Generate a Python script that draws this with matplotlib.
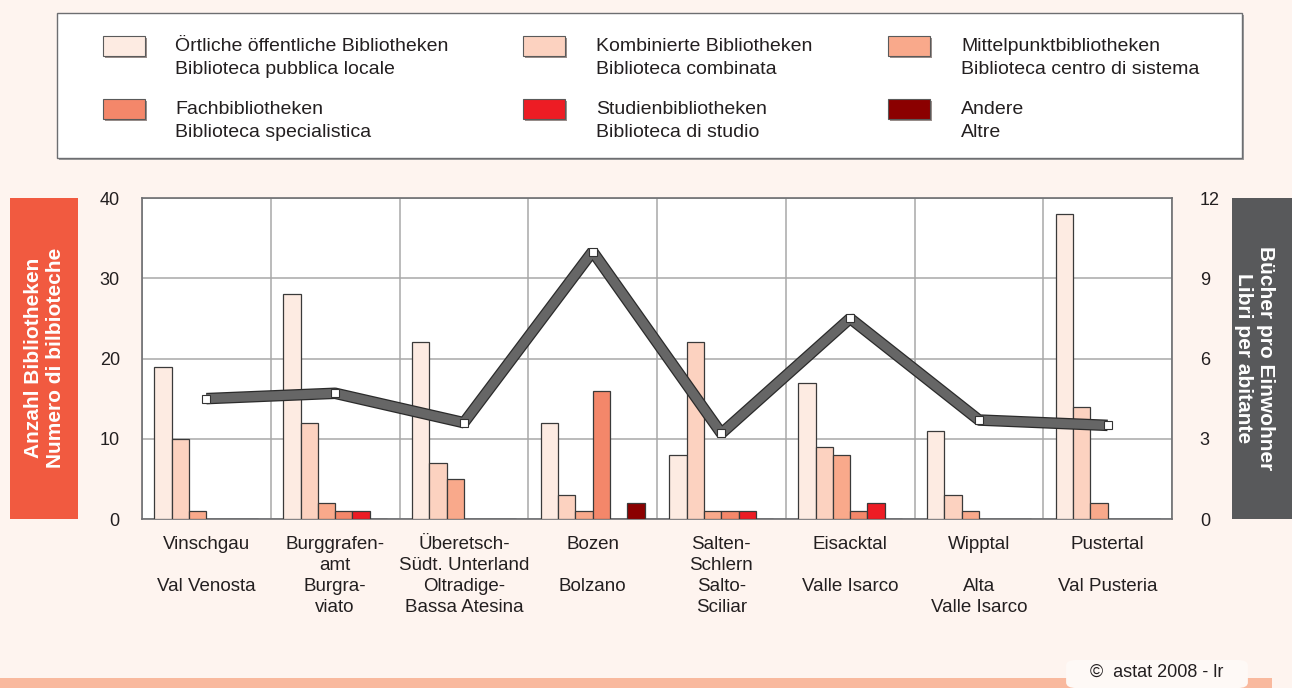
import numpy as np
import matplotlib
matplotlib.use("Agg")
import matplotlib.pyplot as plt
import matplotlib.patheffects as pe
from matplotlib.patches import Rectangle, FancyBboxPatch

plt.rcParams['font.family'] = ['Liberation Sans', 'DejaVu Sans']

# --- data ---
regions_de = ["Vinschgau", "Burggrafen-\namt", "Überetsch-\nSüdt. Unterland", "Bozen",
              "Salten-\nSchlern", "Eisacktal", "Wipptal", "Pustertal"]
regions_it = ["Val Venosta", "Burgra-\nviato", "Oltradige-\nBassa Atesina", "Bolzano",
              "Salto-\nSciliar", "Valle Isarco", "Alta\nValle Isarco", "Val Pusteria"]
series_names = [
    "Örtliche öffentliche Bibliotheken\nBiblioteca pubblica locale",
    "Kombinierte Bibliotheken\nBiblioteca combinata",
    "Mittelpunktbibliotheken\nBiblioteca centro di sistema",
    "Fachbibliotheken\nBiblioteca specialistica",
    "Studienbibliotheken\nBiblioteca di studio",
    "Andere\nAltre",
]
oertliche = [19, 28, 22, 12, 8, 17, 11, 38]
kombinierte = [10, 12, 7, 3, 22, 9, 3, 14]
mittelpunkt = [1, 2, 5, 1, 1, 8, 1, 2]
fach = [0, 1, 0, 16, 1, 1, 0, 0]
studien = [0, 1, 0, 0, 1, 2, 0, 0]
andere = [0, 0, 0, 2, 0, 0, 0, 0]
buecher_pro_einwohner = [4.5, 4.7, 3.6, 10.0, 3.2, 7.5, 3.7, 3.5]

series = [oertliche, kombinierte, mittelpunkt, fach, studien, andere]
colors = ["#fdebe2", "#fcd2c0", "#f9a98b", "#f4876a", "#ed1c24", "#8b0000"]

bg = "#fef4ef"
W, H = 1292, 688

fig = plt.figure(figsize=(12.92, 6.88), dpi=100, facecolor=bg)


def fx(px):
    return px / W


def fy(py):
    return 1 - py / H


ax = fig.add_axes([fx(142), fy(519), fx(1172) - fx(142), fy(198) - fy(519)])
ax.set_facecolor("white")

n = len(regions_de)
x = np.arange(n) + 0.5
bw = 0.1344
for j, vals in enumerate(series):
    ax.bar(x + (j - 2.5) * bw, vals, width=bw, color=colors[j],
           edgecolor="#3a3a3a", linewidth=0.9, zorder=3)

ax.set_xlim(0, n)
ax.set_ylim(0, 40)
ax.set_yticks([0, 10, 20, 30, 40])
ax.set_xticks(np.arange(n + 1))
ax.tick_params(axis="x", length=0, labelbottom=False)
ax.tick_params(axis="y", length=0, labelsize=13, pad=16, colors="#231f20")
ax.grid(True, color="#a8a8a8", linewidth=1.1, zorder=0)
for s in ax.spines.values():
    s.set_color("#6d6e71")
    s.set_linewidth(1.2)

ax2 = ax.twinx()
ax2.set_ylim(0, 12)
ax2.set_yticks([0, 3, 6, 9, 12])
ax2.tick_params(axis="y", length=0, labelsize=13, pad=20, colors="#231f20")
for s in ax2.spines.values():
    s.set_visible(False)
ax2.plot(x, buecher_pro_einwohner, color="#666666", linewidth=6.5,
         solid_joinstyle="bevel", solid_capstyle="butt", zorder=4,
         path_effects=[pe.Stroke(linewidth=8.3, foreground="#2b2b2b",
                                 joinstyle="bevel", capstyle="butt"), pe.Normal()])
ax2.plot(x, buecher_pro_einwohner, linestyle="none", marker="s", markersize=6,
         markerfacecolor="white", markeredgecolor="#333333", markeredgewidth=0.8, zorder=5)

# category labels
for i in range(n):
    xp = fx(142 + (i + 0.5) * (1172 - 142) / n)
    fig.text(xp, fy(536), regions_de[i], ha="center", va="top", fontsize=13.5,
             color="#231f20", linespacing=1.3)
    fig.text(xp, fy(578), regions_it[i], ha="center", va="top", fontsize=13.5,
             color="#231f20", linespacing=1.3)

# legend box
fig.add_artist(Rectangle((fx(59), fy(160)), fx(1244) - fx(59), fy(15) - fy(160),
                         transform=fig.transFigure, facecolor="#9d9d9d", edgecolor="none"))
fig.add_artist(Rectangle((fx(57), fy(158)), fx(1242) - fx(57), fy(13) - fy(158),
                         transform=fig.transFigure, facecolor="white",
                         edgecolor="#6d6e71", linewidth=1.0))
col_patch = [103, 523, 888]
col_text = [175, 596, 961]
row_y = [46, 109]
for k, name in enumerate(series_names):
    r, c = divmod(k, 3)
    px, py = col_patch[c], row_y[r]
    fig.add_artist(Rectangle((fx(px + 2), fy(py + 12)), fx(42) - fx(0), fy(0) - fy(20),
                             transform=fig.transFigure, facecolor="#9a8f8c", edgecolor="none"))
    fig.add_artist(Rectangle((fx(px), fy(py + 10)), fx(42) - fx(0), fy(0) - fy(20),
                             transform=fig.transFigure, facecolor=colors[k],
                             edgecolor="#5a5a5a", linewidth=0.8))
    fig.text(fx(col_text[c]), fy(py + 12), name, ha="left", va="center", fontsize=14,
             color="#231f20", linespacing=1.45)

# side title boxes
fig.add_artist(Rectangle((fx(10), fy(519)), fx(78) - fx(10), fy(198) - fy(519),
                         transform=fig.transFigure, facecolor="#f15a40", edgecolor="none"))
fig.text(fx(45), fy(358), "Anzahl Bibliotheken\nNumero di bilbioteche", rotation=90,
         ha="center", va="center", fontsize=15, fontweight="bold", color="white",
         linespacing=1.2)
fig.add_artist(Rectangle((fx(1232), fy(519)), fx(1292) - fx(1232), fy(198) - fy(519),
                         transform=fig.transFigure, facecolor="#58595b", edgecolor="none"))
fig.text(fx(1255), fy(358), "Bücher pro Einwohner\nLibri per abitante", rotation=-90,
         ha="center", va="center", fontsize=15, fontweight="bold", color="white",
         linespacing=1.2)

# footer
fig.add_artist(Rectangle((0, 0), fx(1272), fy(678), transform=fig.transFigure,
                         facecolor="#f9b99e", edgecolor="none"))
fig.add_artist(FancyBboxPatch((fx(1070), fy(686)), fx(1244) - fx(1070), fy(662) - fy(686),
                              boxstyle="round,pad=0.003,rounding_size=0.008",
                              transform=fig.transFigure, facecolor="#fef9f6", edgecolor="none"))
fig.text(fx(1157), fy(672), "©  astat 2008 - lr", ha="center", va="center",
         fontsize=13, color="#231f20")

fig.savefig("out.png", dpi=100, facecolor=bg)
